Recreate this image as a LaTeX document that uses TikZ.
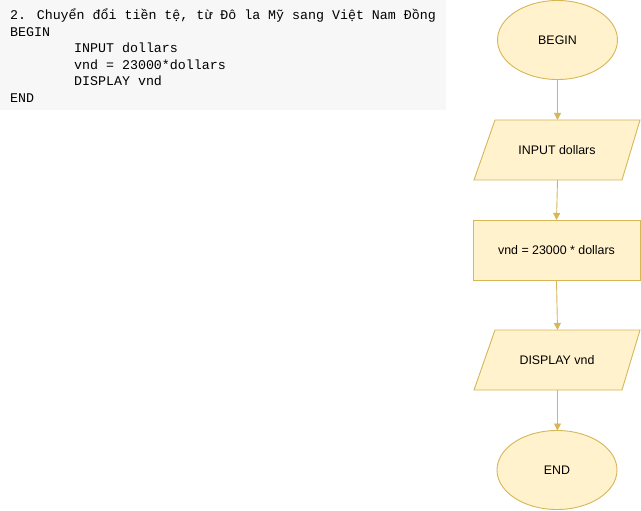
\documentclass[tikz,border=0pt]{standalone}
\usepackage{fontspec}
\setmainfont{Liberation Sans}
\newfontfamily\codefont{Liberation Mono}
\usetikzlibrary{shapes.geometric,arrows.meta}
\definecolor{fcfill}{HTML}{FFF2CC}
\definecolor{fcline}{HTML}{D6B656}
\definecolor{codebg}{HTML}{F7F7F7}
\tikzset{
  fcshape/.style={fill=fcfill,draw=fcline,line width=0.9pt},
  fctext/.style={font=\fontsize{12.4}{14}\selectfont,text=black},
  codeline/.style={anchor=base west,inner sep=0pt,font=\codefont\fontsize{13.3}{16}\selectfont,text=black},
  conn/.style={draw=fcline,line width=0.9pt,-{Triangle[length=7pt,width=7pt]}}
}
\begin{document}
\begin{tikzpicture}[x=1pt,y=-1pt]
\useasboundingbox (0,0) rectangle (641,511);
\fill[codebg] (0,0) rectangle (446,110);
\node[codeline] (l1) at (10,19.5) {2. Chuyển đổi tiền tệ, từ Đô la Mỹ sang Việt Nam Đồng};
\node[codeline] (l2) at (10,36.5) {BEGIN};
\node[codeline] (l3) at (74,53) {INPUT dollars};
\node[codeline] (l4) at (74,69.5) {vnd = 23000*dollars};
\node[codeline] (l5) at (74,86) {DISPLAY vnd};
\node[codeline] (l6) at (10,102.5) {END};

% shapes
\draw[fcshape] (557.5,40) ellipse [x radius=60, y radius=39.5];
\node[fctext] (begin) at (557.5,40) {BEGIN};
\coordinate (beginB) at (557.5,79.5);

\draw[fcshape] (495,120) -- (640,120) -- (622,180) -- (474,180) -- cycle;
\node[fctext] (input) at (557,150) {INPUT dollars};
\coordinate (inputT) at (557.5,120);
\coordinate (inputB) at (557.5,180);

\draw[fcshape] (473,220) rectangle (640,280);
\node[fctext] (calc) at (556.5,250) {vnd = 23000 * dollars};
\coordinate (calcT) at (556.5,220);
\coordinate (calcB) at (556.5,280);

\draw[fcshape] (495,330) -- (640,330) -- (622,390) -- (474,390) -- cycle;
\node[fctext] (disp) at (557,360) {DISPLAY vnd};
\coordinate (dispT) at (557.5,330);
\coordinate (dispB) at (557.5,390);

\draw[fcshape] (557,470) ellipse [x radius=60, y radius=39.5];
\node[fctext] (end) at (557,470) {END};
\coordinate (endT) at (557.5,430.5);

\draw[conn] (beginB) -- (inputT);
\draw[conn] (inputB) -- (calcT);
\draw[conn] (calcB) -- (dispT);
\draw[conn] (dispB) -- (endT);
\end{tikzpicture}
\end{document}
